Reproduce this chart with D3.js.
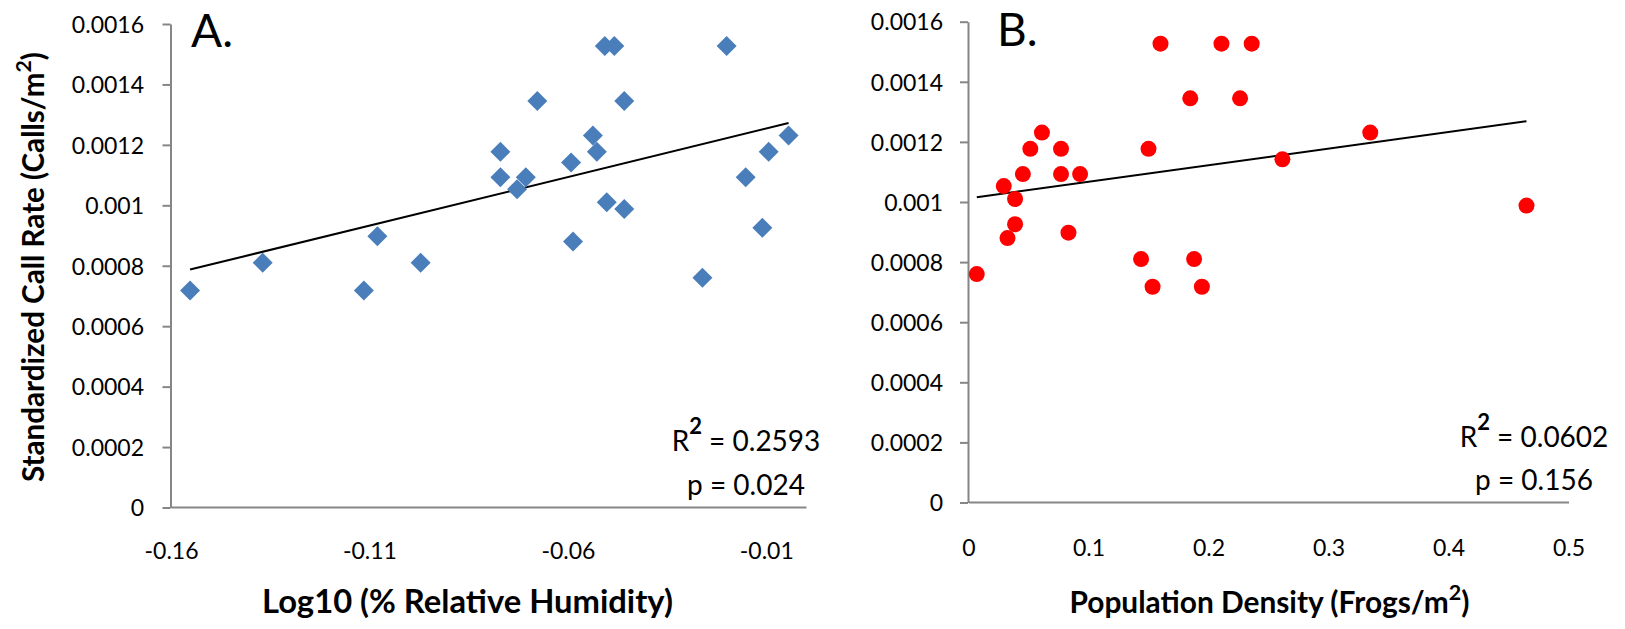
<!DOCTYPE html>
<html>
<head>
<meta charset="utf-8">
<script src="https://cdn.jsdelivr.net/npm/d3@7"></script>
<style>
  html, body { margin: 0; padding: 0; background: #ffffff; }
  svg { display: block; }
  text { font-family: Lato, "Open Sans", "Noto Sans", sans-serif; fill: #000; }
</style>
</head>
<body>
<svg id="chart" width="1625" height="629"></svg>
<script>
// ---- data ---------------------------------------------------------------
// Panel A: log10 of relative humidity vs standardized call rate
const humidityX = [-0.1552, -0.1369, -0.1114, -0.1080, -0.0971, -0.0770, -0.0770, -0.0728, -0.0706, -0.0677,
                   -0.0592, -0.0587, -0.0537, -0.0527, -0.0507, -0.0502, -0.0483, -0.0458, -0.0458, -0.0261,
                   -0.0200, -0.0152, -0.0110, -0.0094, -0.0044];
const humidityRate = [0.000718, 0.000810, 0.000718, 0.000898, 0.000810, 0.001177, 0.001093, 0.001053, 0.001093, 0.001345,
                      0.001142, 0.000880, 0.001231, 0.001177, 0.001527, 0.001010, 0.001527, 0.001345, 0.000988, 0.000760,
                      0.001527, 0.001093, 0.000926, 0.001177, 0.001231];

// Panel B: population density vs standardized call rate
const densityX = [0.0069, 0.0294, 0.0325, 0.0388, 0.0388, 0.0453, 0.0515, 0.0612, 0.0771, 0.0771,
                  0.0833, 0.0930, 0.1438, 0.1500, 0.1534, 0.1600, 0.1848, 0.1880, 0.1945, 0.2108,
                  0.2263, 0.2360, 0.2616, 0.3348, 0.4650];
const densityRate = [0.000760, 0.001053, 0.000880, 0.001010, 0.000926, 0.001093, 0.001177, 0.001231, 0.001177, 0.001093,
                     0.000898, 0.001093, 0.000810, 0.001177, 0.000718, 0.001527, 0.001345, 0.000810, 0.000718, 0.001527,
                     0.001345, 0.001527, 0.001142, 0.001231, 0.000988];

// Axis ticks and labels
const yTickValues = [0, 0.0002, 0.0004, 0.0006, 0.0008, 0.001, 0.0012, 0.0014, 0.0016];
const yTickLabels = ["0", "0.0002", "0.0004", "0.0006", "0.0008", "0.001", "0.0012", "0.0014", "0.0016"];
const humidityTickValues = [-0.16, -0.11, -0.06, -0.01];
const humidityTickLabels = ["-0.16", "-0.11", "-0.06", "-0.01"];
const densityTickValues = [0, 0.1, 0.2, 0.3, 0.4, 0.5];
const densityTickLabels = ["0", "0.1", "0.2", "0.3", "0.4", "0.5"];

// Fit statistics printed in each panel
const panelLetters = ["A.", "B."];
const statR2 = ["0.2593", "0.0602"];
const statP = ["0.024", "0.156"];

// ---- drawing --------------------------------------------------------------
const svg = d3.select("#chart");
const AXIS_COLOR = "#868686";

function diamondPath(r) {
  return `M0,${-r}L${r},0L0,${r}L${-r},0Z`;
}

function regression(xs, ys) {
  const n = xs.length;
  const mx = d3.mean(xs), my = d3.mean(ys);
  let sxy = 0, sxx = 0;
  for (let i = 0; i < n; i++) {
    sxy += (xs[i] - mx) * (ys[i] - my);
    sxx += (xs[i] - mx) * (xs[i] - mx);
  }
  const slope = sxy / sxx;
  return { slope, intercept: my - slope * mx };
}

// Scale a text element so its rendered width equals the target width
function fitWidth(sel, target) {
  const w = sel.node().getComputedTextLength();
  const fs = parseFloat(sel.attr("font-size"));
  sel.attr("font-size", (fs * target / w).toFixed(2));
}

function drawPanel(cfg) {
  const x = d3.scaleLinear().domain(cfg.xDomain).range([cfg.left, cfg.right]);
  const y = d3.scaleLinear().domain([0, 0.0016]).range([cfg.bottom, cfg.top]);
  const g = svg.append("g");

  // y axis
  const yAxis = g.append("g")
    .attr("transform", `translate(${cfg.left - 0.5},0)`)
    .call(d3.axisLeft(y).tickValues(yTickValues)
      .tickFormat((d, i) => yTickLabels[i]).tickSize(8).tickSizeOuter(0).tickPadding(cfg.yPad));
  yAxis.selectAll("path, line").attr("stroke", AXIS_COLOR).attr("stroke-width", 2);
  yAxis.selectAll("text").attr("font-size", 23).attr("font-family", null).attr("fill", "#000").attr("dy", "0.36em");

  // x axis (no tick marks)
  const xAxis = g.append("g")
    .attr("transform", `translate(0,${cfg.bottom - 0.5})`)
    .call(d3.axisBottom(x).tickValues(cfg.xTicks)
      .tickFormat((d, i) => cfg.xLabels[i]).tickSize(0).tickSizeOuter(0));
  xAxis.selectAll("path").attr("stroke", AXIS_COLOR).attr("stroke-width", 2);
  xAxis.selectAll("text").attr("font-size", 23).attr("font-family", null).attr("fill", "#000")
    .attr("y", cfg.xLabelOffset).attr("dy", "0.36em");

  // trend line over the data range
  const fit = regression(cfg.xs, cfg.ys);
  const x0 = d3.min(cfg.xs), x1 = d3.max(cfg.xs);
  g.append("line")
    .attr("x1", x(x0)).attr("y1", y(fit.intercept + fit.slope * x0))
    .attr("x2", x(x1)).attr("y2", y(fit.intercept + fit.slope * x1))
    .attr("stroke", "#000").attr("stroke-width", 2);

  // markers
  const pts = cfg.xs.map((v, i) => [v, cfg.ys[i]]);
  if (cfg.marker === "diamond") {
    g.append("g").selectAll("path").data(pts).join("path")
      .attr("d", diamondPath(10))
      .attr("transform", d => `translate(${x(d[0])},${y(d[1])})`)
      .attr("fill", "#4A7EBB");
  } else {
    g.append("g").selectAll("circle").data(pts).join("circle")
      .attr("cx", d => x(d[0])).attr("cy", d => y(d[1])).attr("r", 8)
      .attr("fill", "#FF0000");
  }

  // panel letter
  g.append("text").attr("x", cfg.letterX).attr("y", cfg.letterY)
    .attr("font-size", 46).text(cfg.letter);

  // R² and p
  const r2 = g.append("text").attr("x", cfg.statX).attr("y", cfg.r2Y)
    .attr("text-anchor", "middle").attr("font-size", 28);
  r2.append("tspan").text("R");
  r2.append("tspan").attr("font-size", 22).attr("font-weight", 700).attr("dy", -17).text("2");
  r2.append("tspan").attr("dy", 17).text(" = " + cfg.r2);
  g.append("text").attr("x", cfg.statX).attr("y", cfg.pY)
    .attr("text-anchor", "middle").attr("font-size", 28).text("p = " + cfg.p);

  // x-axis title
  const title = g.append("text").attr("x", cfg.titleX).attr("y", 613)
    .attr("text-anchor", "middle").attr("font-weight", 700).attr("font-size", 28);
  title.append("tspan").text(cfg.title);
  if (cfg.titleSup) {
    title.append("tspan").attr("font-size", "0.72em").attr("dy", "-0.6em").text("2");
    title.append("tspan").attr("dy", "0.432em").text(")");
  }
  fitWidth(title, cfg.titleWidth);
}

drawPanel({
  left: 171, right: 806, top: 24, bottom: 507.5,
  xDomain: [-0.16, 0], xTicks: humidityTickValues, xLabels: humidityTickLabels,
  xLabelOffset: 43.5, yPad: 18.5,
  xs: humidityX, ys: humidityRate, marker: "diamond",
  letter: panelLetters[0], letterX: 191, letterY: 46.5,
  statX: 746, r2Y: 450.5, pY: 495, r2: statR2[0], p: statP[0],
  title: "Log10 (% Relative Humidity)", titleSup: false, titleX: 467.5, titleWidth: 411
});

drawPanel({
  left: 968.5, right: 1568.5, top: 21.7, bottom: 502.5,
  xDomain: [0, 0.5], xTicks: densityTickValues, xLabels: densityTickLabels,
  xLabelOffset: 45.5, yPad: 17,
  xs: densityX, ys: densityRate, marker: "circle",
  letter: panelLetters[1], letterX: 997, letterY: 45.5,
  statX: 1534, r2Y: 446.5, pY: 490, r2: statR2[1], p: statP[1],
  title: "Population Density (Frogs/m", titleSup: true, titleX: 1269.5, titleWidth: 400
});

// shared y-axis title
const yTitle = svg.append("text")
  .attr("transform", "translate(44,267) rotate(-90)")
  .attr("text-anchor", "middle").attr("font-weight", 700).attr("font-size", 28);
yTitle.append("tspan").text("Standardized Call Rate (Calls/m");
yTitle.append("tspan").attr("font-size", "0.72em").attr("dy", "-0.6em").text("2");
yTitle.append("tspan").attr("dy", "0.432em").text(")");
fitWidth(yTitle, 430);
</script>
</body>
</html>
